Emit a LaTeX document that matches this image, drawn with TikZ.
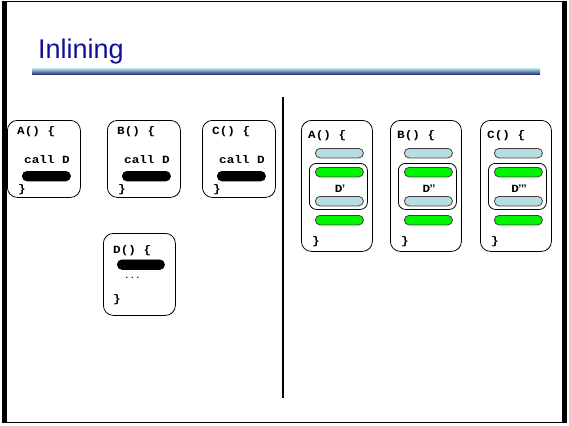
\documentclass[tikz,border=0pt]{standalone}
\usepackage{fontspec}
\setmainfont{Liberation Sans}
\newfontfamily\codefont[FakeStretch=1.15]{Liberation Mono}
\definecolor{titleblue}{RGB}{16,16,150}
\definecolor{barlight}{RGB}{178,220,228}
\definecolor{barmid}{RGB}{130,160,190}
\definecolor{barnavy}{RGB}{40,40,120}
\definecolor{pillblue}{RGB}{184,221,224}
\definecolor{pillgreen}{RGB}{0,245,0}
\newcommand{\qmarks}[1]{\hspace{-0.5pt}{\rmfamily\bfseries #1}}
\begin{document}
\begin{tikzpicture}[x=1pt,y=-1pt,
  box/.style={draw=black, line width=0.8pt, rounded corners=10pt, inner sep=0pt, anchor=north west},
  ibox/.style={draw=black, line width=0.8pt, rounded corners=7pt, inner sep=0pt, anchor=north west, minimum width=58pt, minimum height=46pt},
  pill/.style={draw=black!75, line width=0.8pt, rounded corners=4.6pt, inner sep=0pt, anchor=north west, minimum width=48pt, minimum height=9.5pt},
  bpill/.style={pill, fill=black, draw=black},
  gpill/.style={pill, fill=pillgreen},
  lpill/.style={pill, fill=pillblue},
  code/.style={font=\codefont\bfseries\fontsize{11}{13}\selectfont, inner sep=0pt, anchor=base west},
]
\useasboundingbox (0,0) rectangle (569,425);
% frame
\draw[line width=1pt] (4,2) rectangle (565,422);
\fill (2,1.5) rectangle (6.5,422.5);
\fill (562,1.5) rectangle (567,422.5);
% title
\node[anchor=base west, inner sep=0pt, text=titleblue, font=\fontsize{27}{30}\selectfont] (title) at (38,59) {Inlining};
\shade[top color=barlight, middle color=barmid, bottom color=barnavy] (32,68.5) rectangle (540,74.5);
% divider
\coordinate (dtop) at (283,97);
\coordinate (dbot) at (283,398);
\draw[line width=2.5pt] (dtop) -- (dbot);
% left boxes
\foreach \n/\L in {A/7,B/107,C/202} {
  \node[box, minimum width=73pt, minimum height=77pt] (L\n) at (\L,120) {};
  \node[code] (L\n t) at (\L+10,134.5) {\n() \{};
  \node[code] (L\n c) at (\L+17,163.5) {call D};
  \node[bpill] (L\n p) at (\L+15,171) {};
  \node[code] (L\n e) at (\L+11,192) {\}};
}
% D box
\node[box, minimum width=72pt, minimum height=82pt] (D) at (103,233) {};
\node[code] (Dt) at (113,253) {D() \{};
\node[bpill, minimum width=47pt] (Dp) at (117,259.5) {};
\node[code, font=\codefont\bfseries\fontsize{8}{9}\selectfont] (Dd) at (124,278) {...};
\node[code] (De) at (113,302) {\}};
% right boxes
\foreach \n/\L/\q in {A/301/’,B/390/’’,C/480/’’’} {
  \node[box, minimum width=71pt, minimum height=131pt] (R\n) at (\L,120) {};
  \node[code] (R\n t) at (\L+7,138) {\n() \{};
  \node[lpill] (R\n p1) at (\L+14,148) {};
  \node[ibox] (R\n i) at (\L+8,163) {};
  \node[gpill] (R\n p2) at (\L+14,167) {};
  \node[code, anchor=base] (R\n l) at (\L+39,192) {D\qmarks{\q}};
  \node[lpill] (R\n p3) at (\L+14,196) {};
  \node[gpill] (R\n p4) at (\L+14,215) {};
  \node[code] (R\n e) at (\L+11,244) {\}};
}
\end{tikzpicture}
\end{document}
